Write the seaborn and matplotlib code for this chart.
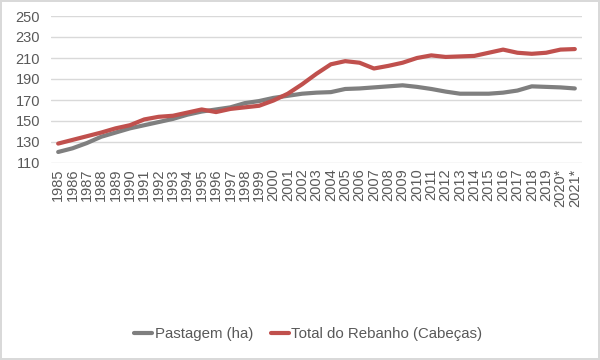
import matplotlib
matplotlib.use("Agg")
import matplotlib.pyplot as plt
import seaborn as sns
import pandas as pd

years = ["1985", "1986", "1987", "1988", "1989", "1990", "1991", "1992", "1993", "1994",
         "1995", "1996", "1997", "1998", "1999", "2000", "2001", "2002", "2003", "2004",
         "2005", "2006", "2007", "2008", "2009", "2010", "2011", "2012", "2013", "2014",
         "2015", "2016", "2017", "2018", "2019", "2020*", "2021*"]

pastagem = [120.5, 124, 129, 135, 139, 143, 146, 149, 152, 156,
            159, 161, 163, 167, 169, 172, 174, 176, 177, 177.5,
            180.5, 181, 182, 183, 184, 182.5, 180.5, 178, 176, 176,
            176, 177, 179, 183, 182.5, 182, 181]

rebanho = [128.5, 132, 135.5, 139, 143, 146, 151.5, 154, 155, 158,
           161, 158.5, 161.5, 163, 164.5, 169.5, 176, 185, 195, 204,
           207, 205.5, 200, 202.5, 205.5, 210, 212.5, 211, 211.5, 212,
           215, 218, 215, 214, 215, 218, 218.5]

series_names = ["Pastagem (ha)", "Total do Rebanho (Cabeças)"]
colors = ["#7F7F7F", "#C0504D"]

df = pd.DataFrame({
    "Ano": years * 2,
    "Valor": pastagem + rebanho,
    "Série": [series_names[0]] * len(years) + [series_names[1]] * len(years),
})

sns.set_theme(style="white")
plt.rcParams["font.family"] = ["Liberation Sans", "DejaVu Sans"]

fig = plt.figure(figsize=(6, 3.6), dpi=100)
fig.patch.set_edgecolor("#D9D9D9")
fig.patch.set_linewidth(1.5)
ax = fig.add_axes([51 / 600, 1 - 163 / 360, (582 - 51) / 600, (163 - 16) / 360])

sns.lineplot(data=df, x="Ano", y="Valor", hue="Série", palette=colors,
             linewidth=3, ax=ax, sort=False, legend=True)

ax.set_xlim(-0.5, len(years) - 0.5)
ax.set_ylim(110, 250)
ax.set_yticks(range(110, 251, 20))
ax.grid(axis="y", color="#D9D9D9", linewidth=1)
ax.set_axisbelow(True)
for s in ax.spines.values():
    s.set_visible(False)
ax.set_xlabel("")
ax.set_ylabel("")
ax.tick_params(axis="x", labelrotation=90, labelsize=10.5, colors="#595959", length=0, pad=4)
ax.tick_params(axis="y", labelsize=10.5, colors="#595959", length=0, pad=8)

handles, labels = ax.get_legend_handles_labels()
ax.legend(handles, labels, loc="center", bbox_to_anchor=(0.514, (360 - 334) / 360),
          bbox_transform=fig.transFigure, ncol=2, frameon=False, fontsize=10.8,
          handlelength=1.2, handletextpad=0.15, columnspacing=1.2, labelcolor="#595959")

fig.savefig("out.png", dpi=100)
